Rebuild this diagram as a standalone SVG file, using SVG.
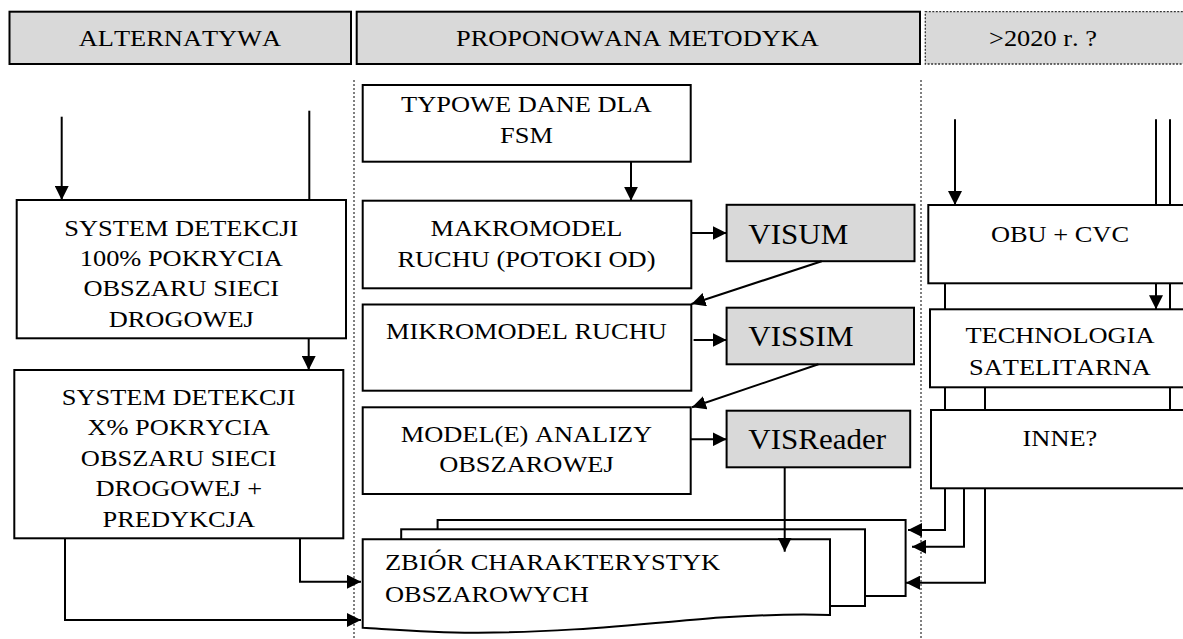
<svg xmlns="http://www.w3.org/2000/svg" width="1183" height="639" viewBox="0 0 1183 639">
<style>
.bx{fill:#fff;stroke:#000;stroke-width:2}
.gr{fill:#d9d9d9;stroke:#000;stroke-width:2}
.gd{fill:#d9d9d9;stroke:#333;stroke-width:1.3;stroke-dasharray:2 1.5}
.sep{fill:none;stroke:#000;stroke-width:1;stroke-dasharray:2 2}
.ln{fill:none;stroke:#000;stroke-width:2}
.ar{fill:none;stroke:#000;stroke-width:2;marker-end:url(#ah)}
.t{font-family:"Liberation Serif","Times New Roman",serif;font-size:24px;font-kerning:none;fill:#000;transform:scale(1.1,1)}
.c{text-anchor:middle}
.v{font-family:"Liberation Serif","Times New Roman",serif;font-size:30px;font-kerning:none;fill:#000;transform:scale(1.035,1)}
</style>
<defs>
<marker id="ah" markerUnits="userSpaceOnUse" markerWidth="14" markerHeight="14" viewBox="0 0 14 14" refX="14" refY="7" orient="auto">
<path d="M0,0 L14,7 L0,14 z" fill="#000"/>
</marker>
</defs>
<rect width="1183" height="639" fill="#fff"/>

<g id="separators">
<line class="sep" x1="354" y1="80" x2="354" y2="639"/>
<line class="sep" x1="921" y1="80" x2="921" y2="639"/>
</g>

<g id="hdr-alternatywa">
<rect class="gr" x="9.5" y="11.7" width="341.5" height="52.3"/>
<text class="t c" x="163.6" y="46">ALTERNATYWA</text>
</g>
<g id="hdr-metodyka">
<rect class="gr" x="356.7" y="11.7" width="563.3" height="52.3"/>
<text class="t c" x="579.5" y="46">PROPONOWANA METODYKA</text>
</g>
<g id="hdr-2020">
<rect class="gd" x="925.3" y="11.7" width="270" height="52.3"/>
<text class="t c" x="948.2" y="46">&gt;2020 r. ?</text>
</g>

<g id="sys100">
<rect class="bx" x="16.7" y="200" width="329.3" height="138.3"/>
<text class="t c" x="164.8" y="236">SYSTEM DETEKCJI</text>
<text class="t c" x="164.8" y="266">100% POKRYCIA</text>
<text class="t c" x="164.8" y="296">OBSZARU SIECI</text>
<text class="t c" x="164.8" y="327">DROGOWEJ</text>
</g>
<g id="sysX">
<rect class="bx" x="14.3" y="370" width="329" height="168.3"/>
<text class="t c" x="162.5" y="405">SYSTEM DETEKCJI</text>
<text class="t c" x="162.5" y="435.5">X% POKRYCIA</text>
<text class="t c" x="162.5" y="466">OBSZARU SIECI</text>
<text class="t c" x="162.5" y="496.5">DROGOWEJ +</text>
<text class="t c" x="162.5" y="527">PREDYKCJA</text>
</g>

<g id="typowe">
<rect class="bx" x="362.7" y="85" width="328" height="76.7"/>
<text class="t c" x="478.6" y="112">TYPOWE DANE DLA</text>
<text class="t c" x="478.6" y="143">FSM</text>
</g>
<g id="makro">
<rect class="bx" x="362.7" y="200.7" width="328.6" height="87.6"/>
<text class="t c" x="478.6" y="236">MAKROMODEL</text>
<text class="t c" x="478.6" y="267">RUCHU (POTOKI OD)</text>
</g>
<g id="mikro">
<rect class="bx" x="362.7" y="304.5" width="328.6" height="86.2"/>
<text class="t c" x="478.6" y="339">MIKROMODEL RUCHU</text>
</g>
<g id="analiza">
<rect class="bx" x="362.7" y="407.3" width="328" height="86.7"/>
<text class="t c" x="478.6" y="442">MODEL(E) ANALIZY</text>
<text class="t c" x="478.6" y="472">OBSZAROWEJ</text>
</g>

<g id="visum">
<rect class="gr" x="726.6" y="204.8" width="187.9" height="56.4"/>
<text class="v" x="723" y="244.5">VISUM</text>
</g>
<g id="vissim">
<rect class="gr" x="726.6" y="307.7" width="187.4" height="56.6"/>
<text class="v" x="723" y="345.7">VISSIM</text>
</g>
<g id="visreader">
<rect class="gr" x="726.6" y="410.7" width="183.6" height="56.6"/>
<text class="v" x="723" y="449.3">VISReader</text>
</g>

<g id="zbior">
<rect class="bx" x="437.6" y="520" width="468" height="76"/>
<rect class="bx" x="401.2" y="529.3" width="463.8" height="76.7"/>
<path class="bx" d="M362.7,539.3 H830 V615 C800,614 760,615 720,617.5 C640,624 560,633 474,632.7 C430,632.5 400,630 362.7,627.7 Z"/>
<text class="t" x="350" y="570">ZBIÓR CHARAKTERYSTYK</text>
<text class="t" x="350" y="601.7">OBSZAROWYCH</text>
</g>

<g id="obu">
<rect class="bx" x="928.3" y="205" width="270" height="78.3"/>
<text class="t c" x="963.6" y="241.7">OBU + CVC</text>
</g>
<g id="satelita">
<rect class="bx" x="930" y="309.3" width="270" height="78"/>
<text class="t c" x="963.6" y="343.3">TECHNOLOGIA</text>
<text class="t c" x="963.6" y="375">SATELITARNA</text>
</g>
<g id="inne">
<rect class="bx" x="931" y="410" width="270" height="78.3"/>
<text class="t c" x="963.6" y="445.7">INNE?</text>
</g>

<g id="connectors">
<path class="ar" d="M61.7,116.7 V200"/>
<path class="ln" d="M309.3,110.7 V200"/>
<path class="ar" d="M308.7,338.3 V370"/>
<path class="ar" d="M300,538.3 V581.7 H361"/>
<path class="ar" d="M65,538.3 V620 H361"/>
<path class="ar" d="M631,161.7 V200.7"/>
<path class="ar" d="M691.3,233 H726.6"/>
<path class="ar" d="M693.6,340 H726.6"/>
<path class="ar" d="M690.7,439.3 H726.6"/>
<path class="ar" d="M821.7,261.2 L691.5,304"/>
<path class="ar" d="M818.4,364.3 L692,407.3"/>
<path class="ar" d="M784.7,467.3 V551.7"/>
<path class="ar" d="M955,119.3 V205"/>
<path class="ln" d="M1156,119.3 V205 M1170,119.3 V205"/>
<path class="ar" d="M1156,283.3 V309.3"/>
<path class="ln" d="M1170,283.3 V309.3 M945,283.3 V309.3"/>
<path class="ln" d="M945,387.3 V410 M985,387.3 V410 M1170,387.3 V410"/>
<path class="ar" d="M945,488.3 V530 H908"/>
<path class="ar" d="M964,488.3 V546.7 H912"/>
<path class="ar" d="M985,488.3 V582.7 H906"/>
</g>
</svg>
